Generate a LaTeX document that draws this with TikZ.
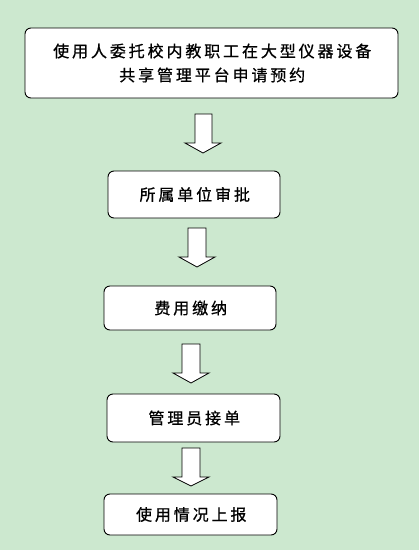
\documentclass[tikz,border=0pt]{standalone}
\usepackage{fontspec}
\newfontfamily\cjk[LetterSpace=18,FakeBold=0.8]{Noto Sans CJK SC}
\definecolor{bg}{RGB}{204,232,207}
\tikzset{
  box/.style={draw=black, line width=0.9pt, fill=white, rounded corners=6pt,
    inner sep=0pt, align=center, font=\cjk\fontsize{16}{24}\selectfont},
  blockarrow/.style={draw=black, line width=0.8pt, fill=white, line join=miter}
}
\begin{document}
\begin{tikzpicture}[x=1pt,y=-1pt]
\fill[bg] (0,0) rectangle (419,550);
\useasboundingbox (0,0) rectangle (419,550);
\node[box, minimum width=373pt, minimum height=70pt] (b1) at (211.5,63)
  {\hspace*{1.5pt}使用人委托校内教职工在大型仪器设备\\\hspace*{1.5pt}共享管理平台申请预约};
\node[box, minimum width=172pt, minimum height=47pt] (b2) at (194,194.5) {\hspace*{1.5pt}所属单位审批};
\node[box, minimum width=172pt, minimum height=44pt] (b3) at (190,308) {\hspace*{1.5pt}费用缴纳};
\node[box, minimum width=173pt, minimum height=48pt] (b4) at (193.5,418) {\hspace*{1.5pt}管理员接单};
\node[box, minimum width=173pt, minimum height=41pt] (b5) at (190.5,514.5) {\hspace*{1.5pt}使用情况上报};
% block arrows
\draw[blockarrow] (195,114) -- (212,114) -- (212,143) -- (221,143) -- (203,153) -- (185,143) -- (195,143) -- cycle;
\draw[blockarrow] (188,228) -- (206,228) -- (206,257) -- (215,257) -- (197,267) -- (179,257) -- (188,257) -- cycle;
\draw[blockarrow] (182,344) -- (200,344) -- (200,373) -- (209,373) -- (191,383) -- (173,373) -- (182,373) -- cycle;
\draw[blockarrow] (182,448) -- (200,448) -- (200,477) -- (209,477) -- (191,486) -- (173,477) -- (182,477) -- cycle;
\end{tikzpicture}
\end{document}
